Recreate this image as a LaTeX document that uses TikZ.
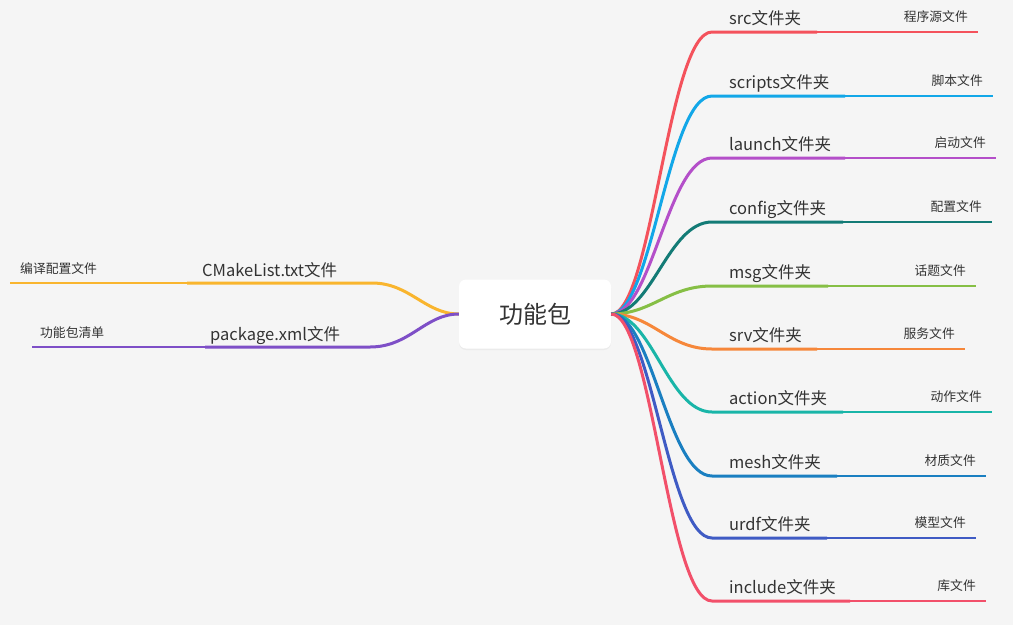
\documentclass[tikz,border=0pt]{standalone}
\usepackage{fontspec}
\setmainfont{Noto Sans CJK SC}
\usetikzlibrary{shadows}
\definecolor{bg}{HTML}{F5F5F5}
\definecolor{txt}{HTML}{333333}
\definecolor{cSrc}{HTML}{F4525C}
\definecolor{cScripts}{HTML}{12A7E8}
\definecolor{cLaunch}{HTML}{B44FC9}
\definecolor{cConfig}{HTML}{137B76}
\definecolor{cMsg}{HTML}{86BF45}
\definecolor{cSrv}{HTML}{F6873A}
\definecolor{cAction}{HTML}{19B5A8}
\definecolor{cMesh}{HTML}{1A7FC1}
\definecolor{cUrdf}{HTML}{3F5BC4}
\definecolor{cInclude}{HTML}{F2506A}
\definecolor{cCmake}{HTML}{F9B52E}
\definecolor{cPkg}{HTML}{7E4FC7}
\tikzset{
  mainlbl/.style={anchor=base west,inner sep=0pt,font=\fontsize{16.5}{18}\selectfont,text=txt},
  sublbl/.style={inner sep=0pt,font=\fontsize{12.8}{14}\selectfont,text=txt},
  thickline/.style={line width=3pt},
  thinline/.style={line width=2pt},
}
\begin{document}
\begin{tikzpicture}[x=1pt,y=-1pt]
\fill[bg] (0,0) rectangle (1013,625);
\useasboundingbox (0,0) rectangle (1013,625);
\node[draw=none,fill=white,rounded corners=7pt,minimum width=152pt,minimum height=69pt,
  inner sep=0pt,drop shadow={opacity=0.08,shadow xshift=0pt,shadow yshift=-1.5pt},
  font=\fontsize{24}{28}\selectfont,text=txt] (root) at (535,314) {功能包};
% right branches
\foreach \n/\y/\a/\b/\c/\lbl/\sub in {
  src/32/817/978/cSrc/src文件夹/程序源文件,
  scripts/96/845/993/cScripts/scripts文件夹/脚本文件,
  launch/158/845/996/cLaunch/launch文件夹/启动文件,
  config/222/843/992/cConfig/config文件夹/配置文件,
  msg/286/828/976/cMsg/msg文件夹/话题文件,
  srv/349/817/965/cSrv/srv文件夹/服务文件,
  action/412/843/992/cAction/action文件夹/动作文件,
  mesh/476/837/986/cMesh/mesh文件夹/材质文件,
  urdf/538/827/976/cUrdf/urdf文件夹/模型文件,
  include/601/850/986/cInclude/include文件夹/库文件}{
  \coordinate (\n-a) at (712,\y);
  \coordinate (\n-b) at (\a,\y);
  \coordinate (\n-c) at (\b,\y);
  \draw[thickline,\c] (root.east) .. controls (652,314) and (668,\y) .. (\n-a) -- (\n-b);
  \draw[thinline,\c] (\n-b) -- (\n-c);
  \node[mainlbl] (\n-lbl) at (729,\y-7.5) {\lbl};
  \node[sublbl,anchor=base east] (\n-sub) at (\b-10,\y-10.5) {\sub};
}
% left branches
\coordinate (cm-a) at (372,283);
\coordinate (cm-b) at (187,283);
\coordinate (cm-c) at (10,283);
\draw[thickline,cCmake] (root.west) .. controls (425,314) and (410,283) .. (cm-a) -- (cm-b);
\draw[thinline,cCmake] (cm-b) -- (cm-c);
\node[mainlbl] (cm-lbl) at (202,276) {CMakeList.txt文件};
\node[sublbl,anchor=base west] (cm-sub) at (20,273) {编译配置文件};
\coordinate (pk-a) at (370,347);
\coordinate (pk-b) at (205,347);
\coordinate (pk-c) at (32,347);
\draw[thickline,cPkg] (root.west) .. controls (425,314) and (410,347) .. (pk-a) -- (pk-b);
\draw[thinline,cPkg] (pk-b) -- (pk-c);
\node[mainlbl] (pk-lbl) at (210,340) {package.xml文件};
\node[sublbl,anchor=base west] (pk-sub) at (40,337) {功能包清单};
\end{tikzpicture}
\end{document}
